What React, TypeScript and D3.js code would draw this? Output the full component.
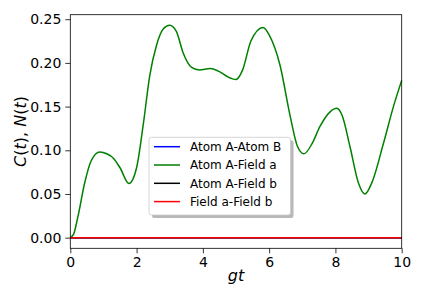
import React, { useEffect, useRef } from 'react';
import * as d3 from 'd3';

// time axis (gt) and the Atom A - Field a correlation
const gt = [0, 0.1, 0.23, 0.43, 0.63, 0.89, 1.1, 1.3, 1.5, 1.77, 2.0, 2.2, 2.4, 2.6, 2.81, 3.0, 3.2, 3.4, 3.66, 3.9, 4.22, 4.5, 4.75, 5.0, 5.2, 5.45, 5.82, 6.0, 6.33, 6.63, 6.85, 7.05, 7.3, 7.53, 7.84, 8.04, 8.2, 8.44, 8.7, 8.89, 9.1, 9.45, 9.75, 10];
const atomAFieldA = [0, 0.004, 0.024, 0.062, 0.088, 0.098, 0.096, 0.091, 0.08, 0.062, 0.08, 0.129, 0.186, 0.22, 0.239, 0.243, 0.236, 0.212, 0.195, 0.192, 0.1935, 0.19, 0.184, 0.181, 0.192, 0.225, 0.2405, 0.232, 0.197, 0.14, 0.105, 0.096, 0.108, 0.127, 0.144, 0.148, 0.14, 0.104, 0.062, 0.05, 0.063, 0.108, 0.15, 0.18];
const atomAAtomB = gt.map(() => 0);
const atomAFieldB = gt.map(() => 0);
const fieldAFieldB = gt.map(() => 0);

const seriesNames = ['Atom A-Atom B', 'Atom A-Field a', 'Atom A-Field b', 'Field a-Field b'];
const seriesColors = ['blue', 'green', 'black', 'red'];
const xTicks = [0, 2, 4, 6, 8, 10];
const yTicks = [0, 0.05, 0.1, 0.15, 0.2, 0.25];

export default function App() {
  const svgRef = useRef<SVGSVGElement>(null);

  useEffect(() => {
    const width = 425, height = 300;
    const m = { left: 70.3, right: 425 - 401.7, top: 14.7, bottom: 300 - 248.3 };
    const svg = d3.select(svgRef.current);
    svg.selectAll('*').remove();
    svg.attr('width', width).attr('height', height);

    const font = 'DejaVu Sans, sans-serif';
    const x = d3.scaleLinear().domain([0, 10]).range([m.left, width - m.right]);
    const yMax = d3.max(atomAFieldA) as number;
    const pad = yMax * 0.05;
    const y = d3.scaleLinear().domain([-pad, yMax + pad]).range([height - m.bottom, m.top]);

    const all = [atomAAtomB, atomAFieldA, atomAFieldB, fieldAFieldB];
    const line = d3.line<number>()
      .x((_, i) => x(gt[i]))
      .y(d => y(d))
      .curve(d3.curveMonotoneX);

    const plot = svg.append('g');
    all.forEach((vals, k) => {
      plot.append('path')
        .attr('d', line(vals))
        .attr('fill', 'none')
        .attr('stroke', seriesColors[k])
        .attr('stroke-width', 1.5);
    });

    // axes
    const xAxis = svg.append('g')
      .attr('transform', `translate(0,${height - m.bottom})`)
      .call(d3.axisBottom(x).tickValues(xTicks).tickFormat(d3.format('d')).tickSize(5).tickPadding(4));
    const yAxis = svg.append('g')
      .attr('transform', `translate(${m.left},0)`)
      .call(d3.axisLeft(y).tickValues(yTicks).tickFormat(d3.format('.2f')).tickSize(5).tickPadding(4));
    [xAxis, yAxis].forEach(a => {
      a.selectAll('text').attr('font-family', font).attr('font-size', 14).attr('fill', '#000');
      a.selectAll('line').attr('stroke', '#000').attr('stroke-width', 0.8);
      a.select('.domain').remove();
    });

    svg.append('rect')
      .attr('x', m.left).attr('y', m.top)
      .attr('width', width - m.left - m.right)
      .attr('height', height - m.top - m.bottom)
      .attr('fill', 'none').attr('stroke', '#000').attr('stroke-width', 0.8);

    // axis labels
    svg.append('text')
      .attr('x', (m.left + width - m.right) / 2).attr('y', 281)
      .attr('text-anchor', 'middle')
      .attr('font-family', font).attr('font-size', 16).attr('font-style', 'italic')
      .text('gt');
    svg.append('text')
      .attr('transform', `translate(26,${(m.top + height - m.bottom) / 2}) rotate(-90)`)
      .attr('text-anchor', 'middle')
      .attr('font-family', font).attr('font-size', 16)
      .html('<tspan font-style="italic">C</tspan>(<tspan font-style="italic">t</tspan>), <tspan font-style="italic">N</tspan>(<tspan font-style="italic">t</tspan>)');

    // legend
    const lg = svg.append('g');
    const lx = 149, ly = 137.3, lw = 141.5, lh = 77.7;
    lg.append('rect')
      .attr('x', lx + 3).attr('y', ly + 3).attr('width', lw).attr('height', lh)
      .attr('rx', 2.5).attr('fill', '#888').attr('opacity', 0.6);
    lg.append('rect')
      .attr('x', lx).attr('y', ly).attr('width', lw).attr('height', lh)
      .attr('rx', 2.5).attr('fill', '#fff').attr('stroke', '#ccc').attr('stroke-width', 0.8);
    seriesNames.forEach((name, k) => {
      const ry = 146.7 + k * 18.3;
      lg.append('line')
        .attr('x1', 154).attr('x2', 180).attr('y1', ry).attr('y2', ry)
        .attr('stroke', seriesColors[k]).attr('stroke-width', 1.5);
      lg.append('text')
        .attr('x', 190).attr('y', ry + 4.3)
        .attr('font-family', font).attr('font-size', 12)
        .text(name);
    });
  }, []);

  return <svg ref={svgRef} style={{ position: 'absolute', left: 0, top: 0 }}></svg>;
}
